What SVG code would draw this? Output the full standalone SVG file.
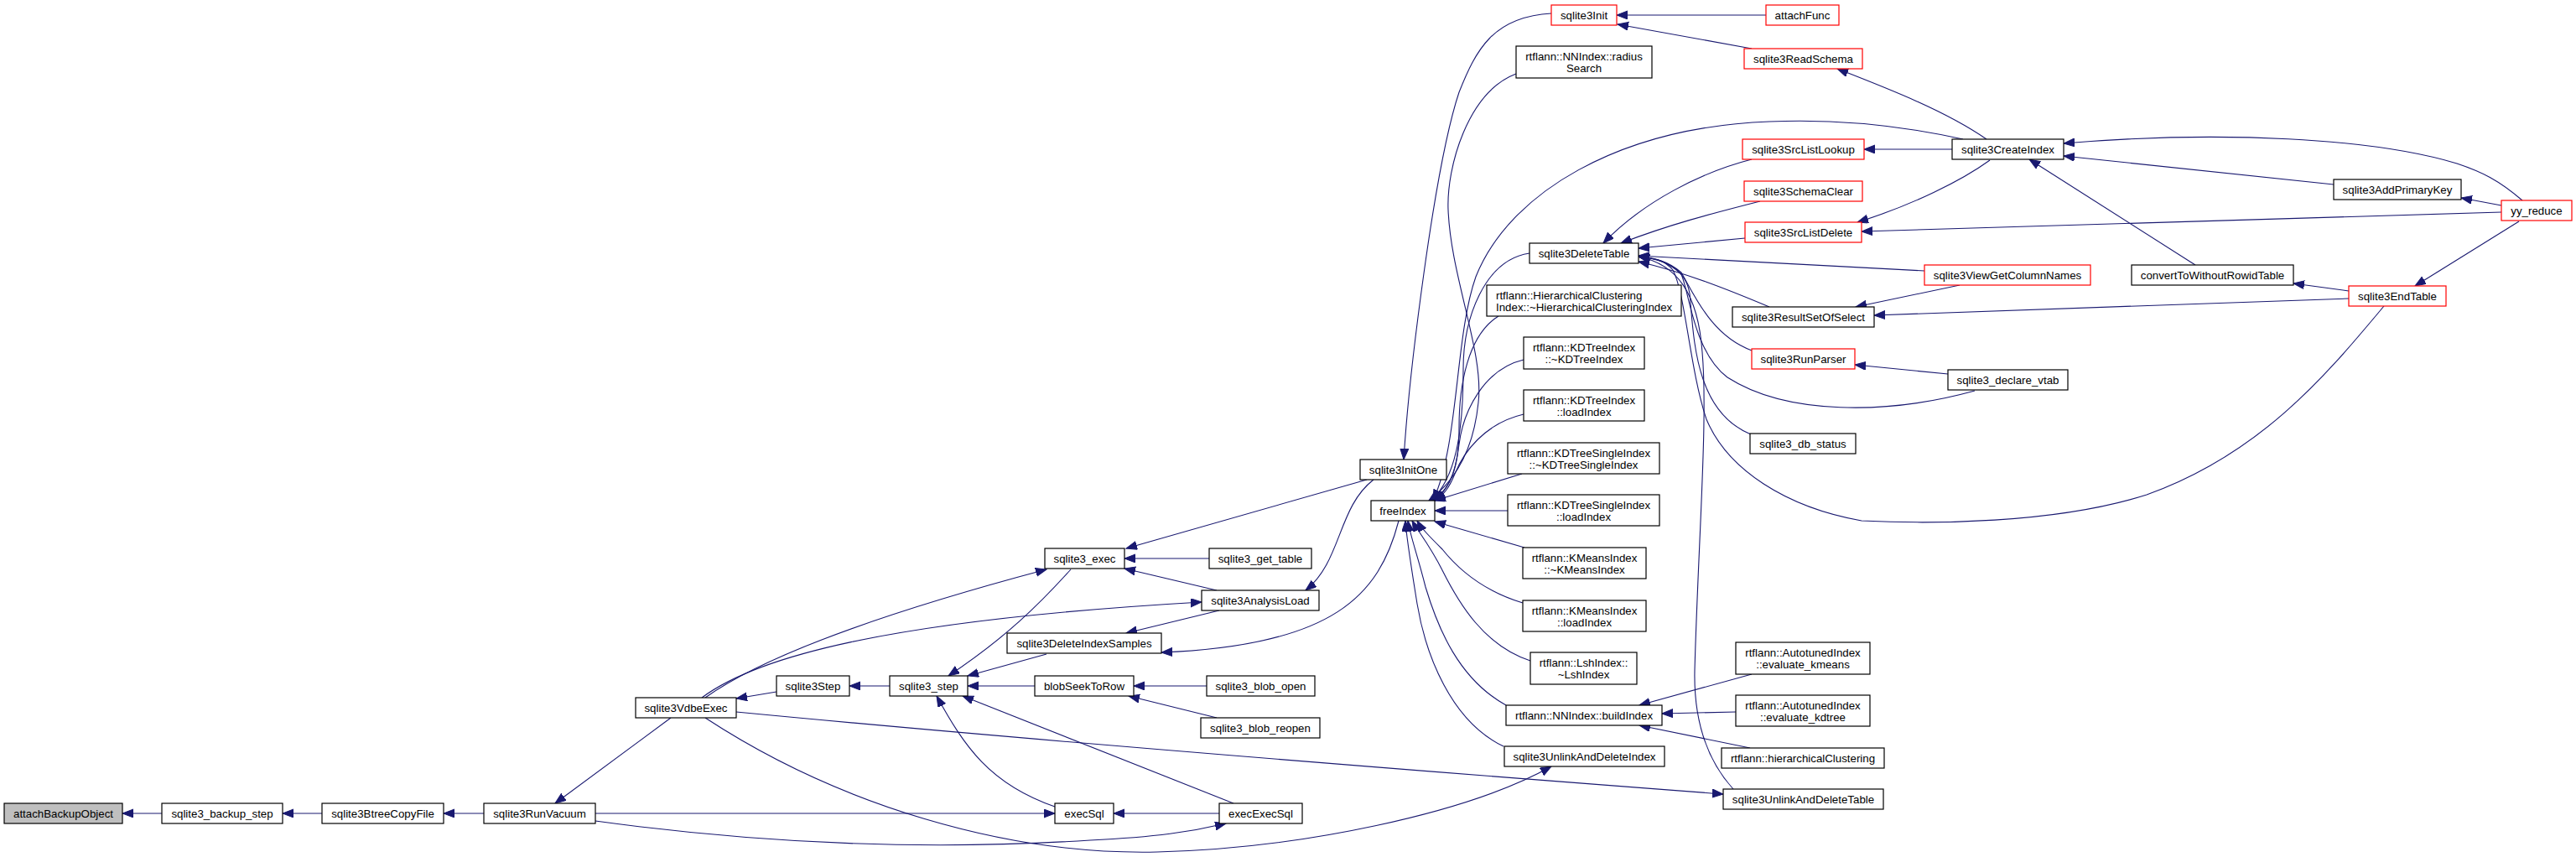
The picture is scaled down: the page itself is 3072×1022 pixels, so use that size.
<svg xmlns="http://www.w3.org/2000/svg" width="3072" height="1022" viewBox="0 0 3072 1022">
<defs>
<marker id="a" markerUnits="userSpaceOnUse" markerWidth="14" markerHeight="11" refX="13" refY="5" orient="auto"><path d="M0,0 L13,5 L0,10 z" fill="#191970" stroke="#191970" stroke-width="1"/></marker>
</defs>
<style>
.n rect{fill:#fff;stroke:#000;stroke-width:1.2}
.r rect{stroke:#f00}
.root rect{fill:#bfbfbf}
text{font-family:"Liberation Sans",Arial,Helvetica,sans-serif;font-size:13.3px;text-anchor:middle;fill:#000}
text.l{text-anchor:start}
.e path{fill:none;stroke:#191970;stroke-width:1.1;marker-end:url(#a)}
</style>
<rect width="3072" height="1022" fill="#fff"/>
<g id="edges" class="e">
<path d="M193,970 L146,970"/>
<path d="M384,970 L337,970"/>
<path d="M577,970 L529,970"/>
<path d="M800,856 L662,958"/>
<path d="M710,970 L1258,970"/>
<path d="M710,979 C900,1005 1100,1015 1300,1002 C1380,998 1420,992 1462,982"/>
<path d="M926,825 L878,833"/>
<path d="M1061,818 L1013,818"/>
<path d="M841,832 C890,797 1000,745 1248,679"/>
<path d="M837,832 C900,785 1050,740 1433,718"/>
<path d="M1277,679 C1240,720 1200,760 1131,806"/>
<path d="M1442,666 L1341,666"/>
<path d="M1451,704 L1341,678"/>
<path d="M1454,728 L1343,755"/>
<path d="M1668,621 C1645,710 1590,770 1385,778"/>
<path d="M1248,780 L1154,806"/>
<path d="M1234,818 L1154,818"/>
<path d="M1439,818 L1352,818"/>
<path d="M1451,856 L1346,830"/>
<path d="M1258,962 C1180,935 1150,890 1117,830"/>
<path d="M1471,958 L1148,830"/>
<path d="M1454,970 L1328,970"/>
<path d="M878,849 C1200,880 1700,920 2055,947"/>
<path d="M841,856 C1000,960 1200,1020 1380,1016 C1550,1012 1750,970 1850,914"/>
<path d="M1630,572 L1343,654"/>
<path d="M1638,572 C1595,605 1600,670 1557,704"/>
<path d="M1850,16 C1780,20 1760,60 1740,110 C1710,200 1680,450 1674,548"/>
<path d="M2106,18 L1928,18"/>
<path d="M2089,58 L1929,29"/>
<path d="M2369,166 C2320,132 2250,105 2191,82"/>
<path d="M2341,166 C2260,148 2180,142 2110,145 C1930,152 1800,230 1760,330 C1735,400 1740,530 1709,597"/>
<path d="M2328,178 L2223,178"/>
<path d="M2373,191 C2340,215 2280,245 2215,265"/>
<path d="M2983,253 L2220,276"/>
<path d="M3008,239 C2980,215 2960,205 2930,195 C2830,165 2650,155 2461,171"/>
<path d="M2783,220 L2461,186"/>
<path d="M2618,316 L2420,190"/>
<path d="M2983,245 L2935,236"/>
<path d="M3004,264 L2880,341"/>
<path d="M2801,347 L2735,338"/>
<path d="M2801,356 L2235,376"/>
<path d="M2337,340 L2213,366"/>
<path d="M2323,446 L2212,435"/>
<path d="M1808,88 C1750,110 1725,200 1727,250 C1730,330 1770,420 1763,480 C1758,530 1740,570 1704,597"/>
<path d="M1824,302 C1770,310 1745,380 1745,440 C1745,520 1735,570 1707,597"/>
<path d="M1787,377 C1750,400 1740,460 1740,510 C1740,560 1730,580 1710,597"/>
<path d="M1817,429 C1770,440 1745,490 1740,530 C1735,570 1725,585 1711,597"/>
<path d="M1817,494 C1770,505 1745,540 1735,565 C1728,582 1722,590 1711,597"/>
<path d="M1815,565 L1711,597"/>
<path d="M1798,609 L1711,609"/>
<path d="M1818,653 L1711,622"/>
<path d="M1816,719 C1770,705 1740,680 1720,655 C1705,640 1695,630 1690,621"/>
<path d="M1825,788 C1770,770 1740,720 1720,680 C1705,650 1690,632 1684,621"/>
<path d="M1796,841 C1740,810 1715,750 1700,700 C1690,660 1682,640 1679,621"/>
<path d="M1793,890 C1730,860 1700,780 1690,720 C1682,670 1677,640 1676,621"/>
<path d="M2089,804 L1955,841"/>
<path d="M2070,849 L1982,851"/>
<path d="M2087,892 L1955,865"/>
<path d="M2089,190 C2030,205 1960,240 1912,290"/>
<path d="M2099,240 C2040,255 1990,268 1933,290"/>
<path d="M2081,284 L1954,296"/>
<path d="M2295,323 L1954,305"/>
<path d="M2110,366 C2060,345 2010,325 1954,312"/>
<path d="M2089,418 C2040,400 2020,350 2005,325 C1990,312 1975,308 1954,306"/>
<path d="M2088,518 C2020,490 2020,400 2015,350 C2010,320 1985,309 1954,306"/>
<path d="M2355,466 C2250,495 2130,495 2060,450 C2020,420 2015,350 2005,327 C1990,312 1975,308 1954,306"/>
<path d="M2843,365 C2780,440 2700,540 2560,590 C2450,625 2300,625 2220,621 C2130,605 2060,560 2035,500 C2015,440 2010,350 1995,322 C1985,310 1972,307 1954,306"/>
<path d="M2067,941 C2030,900 2020,850 2021,800 C2025,650 2037,500 2030,420 C2025,350 2000,315 1954,306"/>
</g>
<g id="n_attachBackupObject" class="n root"><rect x="5" y="958" width="141" height="24"/><text x="75.5" y="974.5">attachBackupObject</text></g>
<g id="n_sqlite3_backup_step" class="n"><rect x="193" y="958" width="144" height="24"/><text x="265" y="974.5">sqlite3_backup_step</text></g>
<g id="n_sqlite3BtreeCopyFile" class="n"><rect x="384" y="958" width="145" height="24"/><text x="456.5" y="974.5">sqlite3BtreeCopyFile</text></g>
<g id="n_sqlite3RunVacuum" class="n"><rect x="577" y="958" width="133" height="24"/><text x="643.5" y="974.5">sqlite3RunVacuum</text></g>
<g id="n_sqlite3VdbeExec" class="n"><rect x="758" y="832" width="120" height="24"/><text x="818" y="848.5">sqlite3VdbeExec</text></g>
<g id="n_sqlite3Step" class="n"><rect x="926" y="806" width="87" height="24"/><text x="969.5" y="822.5">sqlite3Step</text></g>
<g id="n_sqlite3_step" class="n"><rect x="1061" y="806" width="93" height="24"/><text x="1107.5" y="822.5">sqlite3_step</text></g>
<g id="n_sqlite3_exec" class="n"><rect x="1246" y="654" width="95" height="24"/><text x="1293.5" y="670.5">sqlite3_exec</text></g>
<g id="n_sqlite3_get_table" class="n"><rect x="1442" y="654" width="122" height="24"/><text x="1503" y="670.5">sqlite3_get_table</text></g>
<g id="n_sqlite3AnalysisLoad" class="n"><rect x="1433" y="704" width="140" height="24"/><text x="1503" y="720.5">sqlite3AnalysisLoad</text></g>
<g id="n_sqlite3DeleteIndexSamples" class="n"><rect x="1201" y="755" width="184" height="24"/><text x="1293" y="771.5">sqlite3DeleteIndexSamples</text></g>
<g id="n_blobSeekToRow" class="n"><rect x="1234" y="806" width="118" height="24"/><text x="1293" y="822.5">blobSeekToRow</text></g>
<g id="n_sqlite3_blob_open" class="n"><rect x="1439" y="806" width="129" height="24"/><text x="1503.5" y="822.5">sqlite3_blob_open</text></g>
<g id="n_sqlite3_blob_reopen" class="n"><rect x="1432" y="856" width="142" height="24"/><text x="1503" y="872.5">sqlite3_blob_reopen</text></g>
<g id="n_execSql" class="n"><rect x="1258" y="958" width="70" height="24"/><text x="1293" y="974.5">execSql</text></g>
<g id="n_execExecSql" class="n"><rect x="1454" y="958" width="99" height="24"/><text x="1503.5" y="974.5">execExecSql</text></g>
<g id="n_sqlite3InitOne" class="n"><rect x="1622" y="548" width="103" height="24"/><text x="1673.5" y="564.5">sqlite3InitOne</text></g>
<g id="n_freeIndex" class="n"><rect x="1635" y="597" width="76" height="24"/><text x="1673" y="613.5">freeIndex</text></g>
<g id="n_sqlite3Init" class="n r"><rect x="1850" y="6" width="78" height="24"/><text x="1889" y="22.5">sqlite3Init</text></g>
<g id="n_attachFunc" class="n r"><rect x="2106" y="6" width="87" height="24"/><text x="2149.5" y="22.5">attachFunc</text></g>
<g id="n_radiusSearch" class="n"><rect x="1808" y="55" width="162" height="38"/><text x="1889" y="72">rtflann::NNIndex::radius</text><text x="1889" y="85.5">Search</text></g>
<g id="n_sqlite3ReadSchema" class="n r"><rect x="2080" y="58" width="141" height="24"/><text x="2150.5" y="74.5">sqlite3ReadSchema</text></g>
<g id="n_sqlite3SrcListLookup" class="n r"><rect x="2078" y="166" width="145" height="24"/><text x="2150.5" y="182.5">sqlite3SrcListLookup</text></g>
<g id="n_sqlite3SchemaClear" class="n r"><rect x="2080" y="216" width="141" height="24"/><text x="2150.5" y="232.5">sqlite3SchemaClear</text></g>
<g id="n_sqlite3SrcListDelete" class="n r"><rect x="2081" y="265" width="139" height="24"/><text x="2150.5" y="281.5">sqlite3SrcListDelete</text></g>
<g id="n_sqlite3DeleteTable" class="n"><rect x="1824" y="290" width="130" height="24"/><text x="1889" y="306.5">sqlite3DeleteTable</text></g>
<g id="n_HierarchicalClusteringIndexDtor" class="n"><rect x="1773" y="340" width="232" height="37"/><text class="l" x="1784" y="357">rtflann::HierarchicalClustering</text><text class="l" x="1784" y="370.5">Index::~HierarchicalClusteringIndex</text></g>
<g id="n_KDTreeIndexDtor" class="n"><rect x="1817" y="402" width="144" height="38"/><text x="1889" y="419">rtflann::KDTreeIndex</text><text x="1889" y="432.5">::~KDTreeIndex</text></g>
<g id="n_KDTreeIndexLoad" class="n"><rect x="1817" y="465" width="144" height="37"/><text x="1889" y="482">rtflann::KDTreeIndex</text><text x="1889" y="495.5">::loadIndex</text></g>
<g id="n_KDTreeSingleIndexDtor" class="n"><rect x="1798" y="528" width="181" height="37"/><text x="1888.5" y="545">rtflann::KDTreeSingleIndex</text><text x="1888.5" y="558.5">::~KDTreeSingleIndex</text></g>
<g id="n_KDTreeSingleIndexLoad" class="n"><rect x="1798" y="590" width="181" height="37"/><text x="1888.5" y="607">rtflann::KDTreeSingleIndex</text><text x="1888.5" y="620.5">::loadIndex</text></g>
<g id="n_KMeansIndexDtor" class="n"><rect x="1816" y="653" width="147" height="37"/><text x="1889.5" y="670">rtflann::KMeansIndex</text><text x="1889.5" y="683.5">::~KMeansIndex</text></g>
<g id="n_KMeansIndexLoad" class="n"><rect x="1816" y="716" width="147" height="37"/><text x="1889.5" y="733">rtflann::KMeansIndex</text><text x="1889.5" y="746.5">::loadIndex</text></g>
<g id="n_LshIndexDtor" class="n"><rect x="1825" y="778" width="127" height="38"/><text x="1888.5" y="795">rtflann::LshIndex::</text><text x="1888.5" y="808.5">~LshIndex</text></g>
<g id="n_buildIndex" class="n"><rect x="1796" y="841" width="186" height="24"/><text x="1889" y="857.5">rtflann::NNIndex::buildIndex</text></g>
<g id="n_sqlite3UnlinkAndDeleteIndex" class="n"><rect x="1794" y="890" width="191" height="24"/><text x="1889.5" y="906.5">sqlite3UnlinkAndDeleteIndex</text></g>
<g id="n_sqlite3_db_status" class="n"><rect x="2087" y="517" width="126" height="24"/><text x="2150" y="533.5">sqlite3_db_status</text></g>
<g id="n_evaluate_kmeans" class="n"><rect x="2070" y="766" width="160" height="38"/><text x="2150" y="783">rtflann::AutotunedIndex</text><text x="2150" y="796.5">::evaluate_kmeans</text></g>
<g id="n_evaluate_kdtree" class="n"><rect x="2070" y="829" width="160" height="37"/><text x="2150" y="846">rtflann::AutotunedIndex</text><text x="2150" y="859.5">::evaluate_kdtree</text></g>
<g id="n_hierarchicalClustering" class="n"><rect x="2053" y="892" width="194" height="24"/><text x="2150" y="908.5">rtflann::hierarchicalClustering</text></g>
<g id="n_sqlite3UnlinkAndDeleteTable" class="n"><rect x="2055" y="941" width="191" height="24"/><text x="2150.5" y="957.5">sqlite3UnlinkAndDeleteTable</text></g>
<g id="n_sqlite3ResultSetOfSelect" class="n"><rect x="2066" y="366" width="169" height="24"/><text x="2150.5" y="382.5">sqlite3ResultSetOfSelect</text></g>
<g id="n_sqlite3RunParser" class="n r"><rect x="2089" y="416" width="123" height="24"/><text x="2150.5" y="432.5">sqlite3RunParser</text></g>
<g id="n_sqlite3ViewGetColumnNames" class="n r"><rect x="2295" y="316" width="198" height="24"/><text x="2394" y="332.5">sqlite3ViewGetColumnNames</text></g>
<g id="n_sqlite3CreateIndex" class="n"><rect x="2328" y="166" width="133" height="24"/><text x="2394.5" y="182.5">sqlite3CreateIndex</text></g>
<g id="n_sqlite3AddPrimaryKey" class="n"><rect x="2783" y="214" width="152" height="24"/><text x="2859" y="230.5">sqlite3AddPrimaryKey</text></g>
<g id="n_yy_reduce" class="n r"><rect x="2983" y="239" width="84" height="24"/><text x="3025" y="255.5">yy_reduce</text></g>
<g id="n_convertToWithoutRowidTable" class="n"><rect x="2542" y="316" width="193" height="24"/><text x="2638.5" y="332.5">convertToWithoutRowidTable</text></g>
<g id="n_sqlite3EndTable" class="n r"><rect x="2801" y="341" width="116" height="24"/><text x="2859" y="357.5">sqlite3EndTable</text></g>
<g id="n_sqlite3_declare_vtab" class="n"><rect x="2323" y="441" width="143" height="24"/><text x="2394.5" y="457.5">sqlite3_declare_vtab</text></g>
</svg>
